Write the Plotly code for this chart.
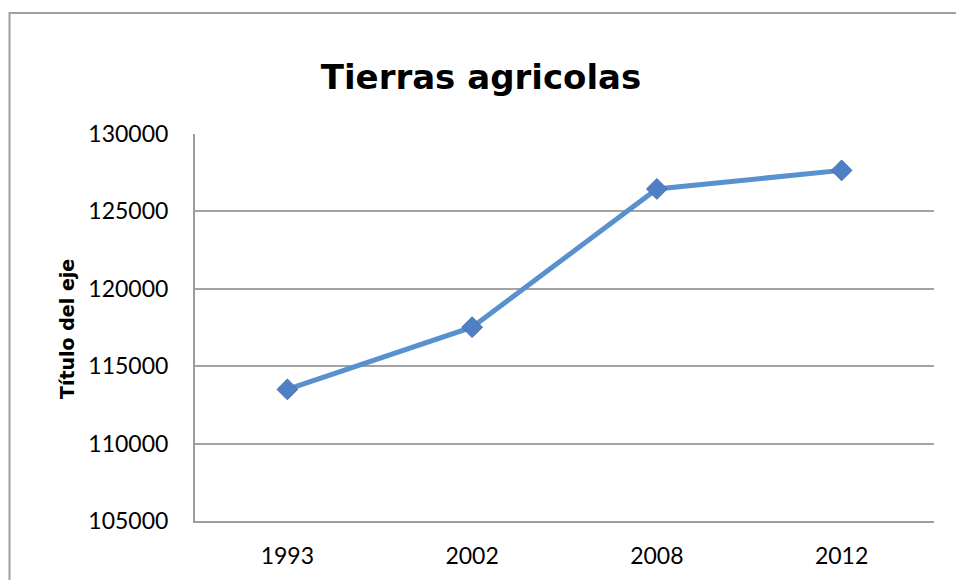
import plotly.graph_objects as go

categories = ["1993", "2002", "2008", "2012"]
values = [113500, 117520, 126450, 127650]
y_ticks = [105000, 110000, 115000, 120000, 125000, 130000]
title_text = "Tierras agricolas"
y_title = "Título del eje"

W, H = 956, 580
L, R, T, B = 195, 22, 134, 59
pw = W - L - R
ph = H - T - B

fig = go.Figure()
fig.add_trace(go.Scatter(
    x=categories, y=values, mode="lines+markers",
    line=dict(color="#5891CE", width=5),
    marker=dict(symbol="diamond", size=16, color="#4F7FC4",
                line=dict(color="#4A70AD", width=1)),
    showlegend=False, hoverinfo="x+y",
))

fig.update_layout(
    width=W, height=H,
    margin=dict(l=L, r=R, t=T, b=B, pad=0, autoexpand=False),
    paper_bgcolor="white", plot_bgcolor="white",
    font=dict(family="Lato, Carlito, Calibri, sans-serif", color="#000000"),
    title=dict(text=f"<b>{title_text}</b>", xref="container", yref="container",
               x=481 / W, y=1 - 77 / H, xanchor="center", yanchor="middle",
               font=dict(size=34, color="#000000", family="DejaVu Sans, sans-serif")),
    xaxis=dict(type="category", range=[-0.5, 3.5], showgrid=False,
               showline=True, linecolor="#9d9d9d", linewidth=2,
               ticks="", tickfont=dict(size=23), ticklabelstandoff=13,
               zeroline=False, fixedrange=True, automargin=False),
    yaxis=dict(range=[105000, 130000], tickvals=y_ticks,
               ticktext=[str(v) for v in y_ticks],
               showgrid=True, gridcolor="#a3a3a3", gridwidth=1.5,
               showline=True, linecolor="#9d9d9d", linewidth=2,
               ticks="", tickfont=dict(size=23), ticklabelstandoff=20,
               zeroline=False, fixedrange=True, automargin=False),
    shapes=[dict(type="rect", xref="paper", yref="paper",
                 x0=(9.5 - L) / pw, x1=1.1, y0=-0.3, y1=(H - B - 13) / ph,
                 line=dict(color="#a0a0a0", width=2), fillcolor="rgba(0,0,0,0)",
                 layer="below")],
    annotations=[dict(text=f"<b>{y_title}</b>", textangle=-90,
                      xref="paper", yref="paper",
                      x=(67 - L) / pw, y=(H - B - 329) / ph,
                      xanchor="center", yanchor="middle", showarrow=False,
                      font=dict(size=19, color="#000000", family="DejaVu Sans, sans-serif"))],
)

fig.write_html("out.html", config={"displayModeBar": False},
               post_script="document.body.style.margin='0';document.body.style.overflow='hidden';")
